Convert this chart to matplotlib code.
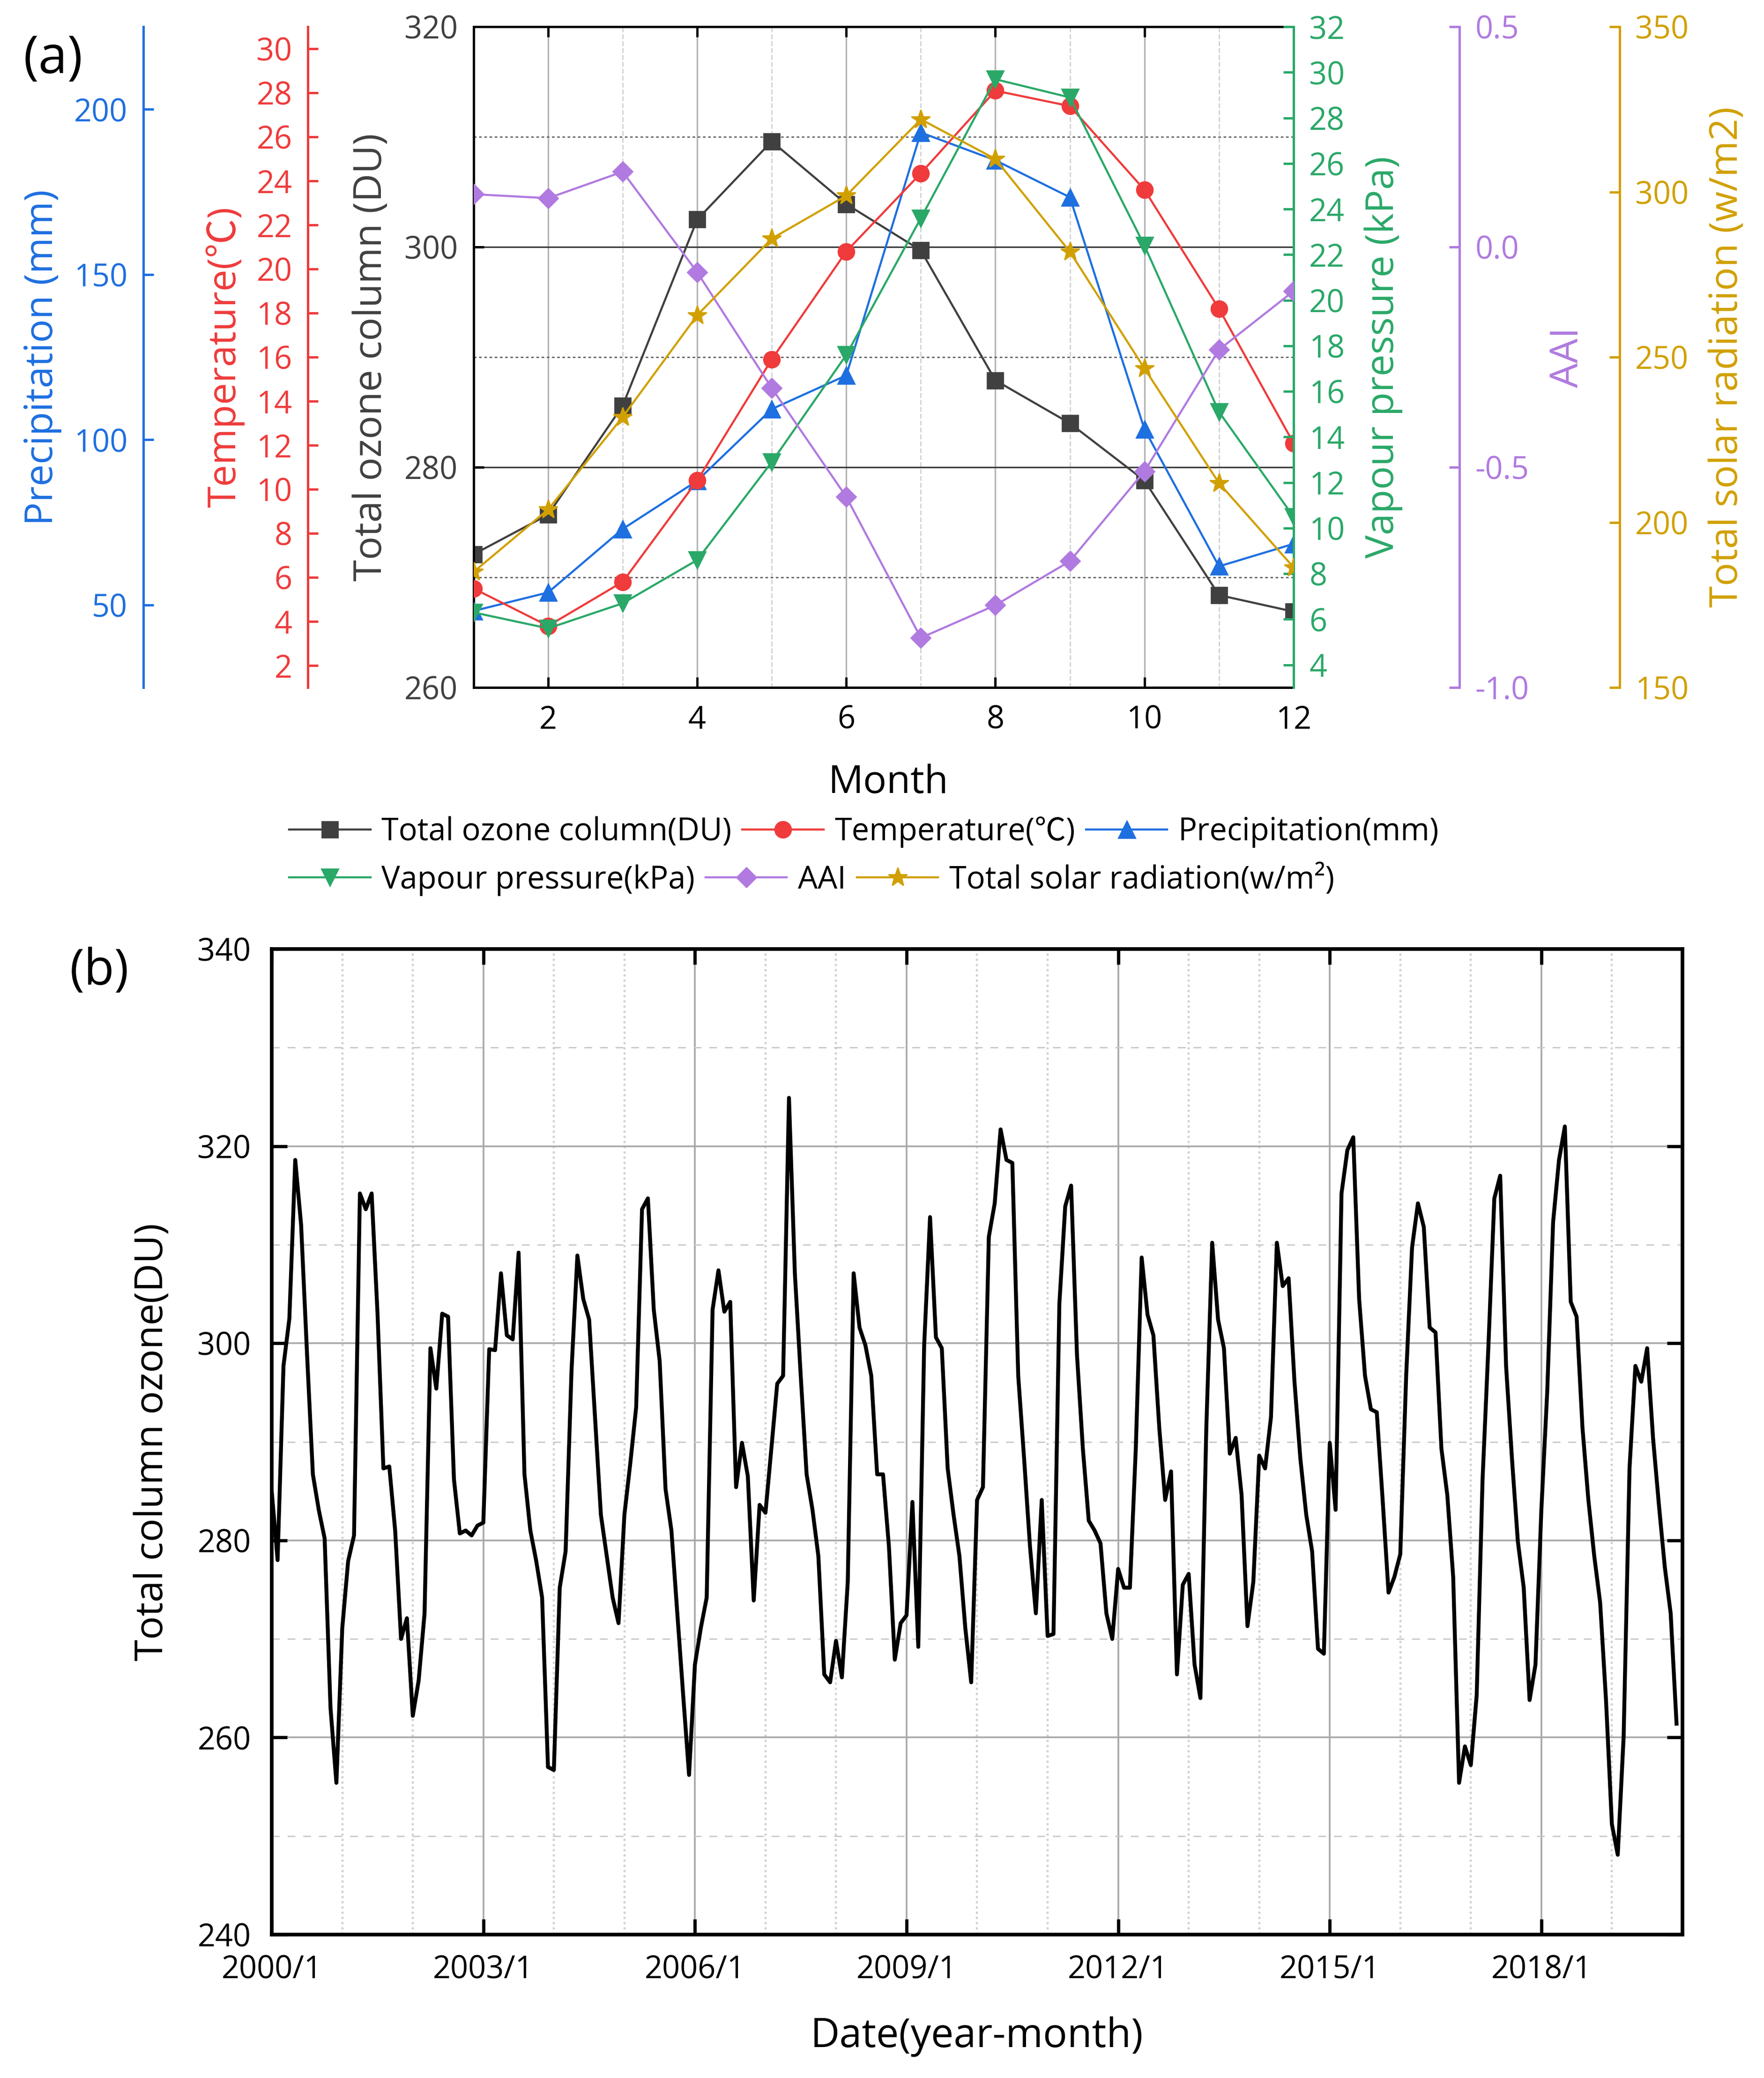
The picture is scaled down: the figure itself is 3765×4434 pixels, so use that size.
import matplotlib
matplotlib.use('Agg')
import matplotlib.pyplot as plt
from matplotlib.ticker import FormatStrFormatter

plt.rcParams['font.family'] = ['Open Sans', 'Noto Sans CJK SC', 'DejaVu Sans']
plt.rcParams['axes.unicode_minus'] = False

# ---- panel (a): monthly climatology ----
months = list(range(1, 13))
ozone = [272.1, 275.7, 285.6, 302.5, 309.6, 303.9, 299.7, 287.9, 284.0, 278.8, 268.4, 266.9]
temperature = [5.5, 3.8, 5.8, 10.4, 15.9, 20.8, 24.35, 28.1, 27.4, 23.6, 18.2, 12.1]
precipitation = [48.2, 53.8, 73.0, 87.6, 109.3, 119.5, 193.0, 184.6, 173.4, 103.2, 61.7, 68.5]
vapour = [6.3, 5.6, 6.7, 8.6, 12.9, 17.6, 23.6, 29.7, 28.9, 22.4, 15.1, 10.5]
aai = [0.120, 0.111, 0.171, -0.057, -0.320, -0.567, -0.887, -0.813, -0.713, -0.509, -0.233, -0.100]
solar = [185.0, 203.9, 231.9, 262.7, 285.9, 298.9, 322.0, 310.0, 281.9, 246.6, 211.9, 186.4]

# ---- panel (b): monthly total column ozone 2000/1 - 2019/12 ----
toc_monthly = [
    285.0, 278.0, 297.7, 302.5, 318.6, 312.0, 299.0, 286.7, 283.1, 280.2, 263.0, 255.4,  # 2000
    271.1, 277.9, 280.5, 315.2, 313.6, 315.2, 303.0, 287.3, 287.5, 281.0, 270.0, 272.1,  # 2001
    262.2, 265.8, 272.6, 299.5, 295.4, 303.0, 302.7, 286.2, 280.7, 281.0, 280.5, 281.5,  # 2002
    281.8, 299.4, 299.3, 307.1, 300.8, 300.4, 309.2, 286.7, 281.0, 277.9, 274.2, 257.0,  # 2003
    256.7, 275.2, 278.9, 297.2, 308.9, 304.5, 302.4, 292.5, 282.6, 278.4, 274.2, 271.6,  # 2004
    282.6, 287.8, 293.5, 313.6, 314.7, 303.4, 298.2, 285.2, 281.0, 272.6, 264.3, 256.2,  # 2005
    267.4, 271.1, 274.2, 303.4, 307.4, 303.2, 304.2, 285.4, 289.9, 286.5, 273.9, 283.6,  # 2006
    282.8, 289.3, 295.9, 296.7, 324.9, 307.1, 296.7, 286.7, 283.1, 278.4, 266.4, 265.6,  # 2007
    269.8, 266.1, 275.8, 307.1, 301.6, 299.8, 296.7, 286.7, 286.7, 279.4, 267.9, 271.6,  # 2008
    272.4, 283.9, 269.2, 299.8, 312.8, 300.6, 299.5, 287.3, 282.6, 278.4, 271.1, 265.6,  # 2009
    284.1, 285.4, 310.8, 314.2, 321.7, 318.6, 318.3, 296.7, 288.3, 279.4, 272.6, 284.1,  # 2010
    270.3, 270.5, 304.0, 313.9, 316.0, 298.8, 289.3, 282.0, 281.0, 279.7, 272.6, 270.0,  # 2011
    277.1, 275.2, 275.2, 289.3, 308.7, 302.9, 300.8, 291.4, 284.1, 287.0, 266.4, 275.5,  # 2012
    276.6, 267.4, 264.0, 291.4, 310.2, 302.4, 299.5, 288.8, 290.4, 284.6, 271.3, 275.8,  # 2013
    288.6, 287.3, 292.5, 310.2, 305.8, 306.6, 296.1, 288.3, 282.6, 278.9, 269.0, 268.5,  # 2014
    289.9, 283.1, 315.2, 319.6, 320.9, 304.5, 296.7, 293.3, 293.0, 284.1, 274.7, 276.3,  # 2015
    278.6, 296.7, 309.7, 314.2, 311.8, 301.6, 301.1, 289.3, 284.6, 276.3, 255.4, 259.1,  # 2016
    257.2, 264.3, 286.2, 299.8, 314.7, 317.0, 297.7, 288.3, 279.9, 275.2, 263.8, 267.4,  # 2017
    283.1, 295.1, 312.3, 318.6, 322.0, 304.2, 302.7, 291.4, 284.1, 278.4, 273.7, 263.8,  # 2018
    251.2, 248.1, 260.1, 287.3, 297.7, 296.1, 299.5, 290.4, 283.6, 277.3, 272.6, 261.4,  # 2019
]
date_labels = ['2000/1', '2003/1', '2006/1', '2009/1', '2012/1', '2015/1', '2018/1']

c_ozone = '#404040'
c_temp = '#EF3B3B'
c_prec = '#1E6FE0'
c_vap = '#2AA868'
c_aai = '#B07AE0'
c_sol = '#D1A000'

FS = 24
LFS = 30

fig = plt.figure(figsize=(18.83, 22.17), dpi=200)

# ================= (a) =================
ax = fig.add_axes([0.2684, 0.6691, 0.4647, 0.318])
ax_p = ax.twinx()
ax_t = ax.twinx()
ax_v = ax.twinx()
ax_a = ax.twinx()
ax_s = ax.twinx()

l_oz, = ax.plot(months, ozone, color=c_ozone, marker='s', lw=1.6, ms=12,
                label='Total ozone column(DU)')
l_t, = ax_t.plot(months, temperature, color=c_temp, marker='o', lw=1.6, ms=12.5,
                 label='Temperature(℃)')
l_p, = ax_p.plot(months, precipitation, color=c_prec, marker='^', lw=1.6, ms=13,
                 label='Precipitation(mm)')
l_v, = ax_v.plot(months, vapour, color=c_vap, marker='v', lw=1.6, ms=13,
                 label='Vapour pressure(kPa)')
l_a, = ax_a.plot(months, aai, color=c_aai, marker='D', lw=1.6, ms=10.5, label='AAI')
l_s, = ax_s.plot(months, solar, color=c_sol, marker='*', lw=1.6, ms=15,
                 label='Total solar radiation(w/m²)')


def style_twin(tw, side, pos, color):
    for s in tw.spines.values():
        s.set_visible(False)
    sp = tw.spines[side]
    sp.set_visible(True)
    sp.set_position(('axes', pos))
    sp.set_color(color)
    sp.set_linewidth(1.8)
    if side == 'left':
        tw.yaxis.set_ticks_position('left')
        tw.yaxis.set_label_position('left')
    else:
        tw.yaxis.set_ticks_position('right')
        tw.yaxis.set_label_position('right')
    tw.tick_params(axis='y', direction='in', colors=color, length=8, width=1.8,
                   labelsize=FS, pad=12)


style_twin(ax_p, 'left', -0.403, c_prec)
style_twin(ax_t, 'left', -0.2023, c_temp)
style_twin(ax_v, 'right', 1.0, c_vap)
style_twin(ax_a, 'right', 1.2023, c_aai)
style_twin(ax_s, 'right', 1.3977, c_sol)

ax.set_xlim(1, 12)
ax.set_ylim(260, 320)
ax_p.set_ylim(25, 225)
ax_t.set_ylim(1, 31)
ax_v.set_ylim(3, 32)
ax_a.set_ylim(-1.0, 0.5)
ax_s.set_ylim(150, 350)

ax.set_xticks(range(2, 13, 2))
ax.set_xticks(range(1, 13, 2), minor=True)
ax.set_yticks([260, 280, 300, 320])
ax.set_yticks([270, 290, 310], minor=True)
ax_p.set_yticks([50, 100, 150, 200])
ax_t.set_yticks(range(2, 31, 2))
ax_v.set_yticks(range(4, 33, 2))
ax_a.set_yticks([-1.0, -0.5, 0.0, 0.5])
ax_a.yaxis.set_major_formatter(FormatStrFormatter('%.1f'))
ax_s.set_yticks([150, 200, 250, 300, 350])

for s in ['left', 'top', 'bottom']:
    ax.spines[s].set_linewidth(1.8)
    ax.spines[s].set_color('black')
ax.spines['right'].set_visible(False)

ax.grid(which='major', axis='x', color='#b4b4b4', lw=1.2)
ax.grid(which='minor', axis='x', color='#d2d2d2', lw=1.0, ls='--')
ax.grid(which='major', axis='y', color='#3c3c3c', lw=1.2)
ax.grid(which='minor', axis='y', color='#606060', lw=1.0, ls=(0, (2, 2)))
ax.tick_params(which='minor', length=0)
ax.tick_params(axis='x', which='major', direction='in', top=True, length=8, width=1.8,
               labelsize=FS, pad=13)
ax.tick_params(axis='y', which='major', direction='in', length=8, width=1.8,
               labelsize=FS, labelcolor=c_ozone, pad=12)

ax.set_ylabel('Total ozone column (DU)', color=c_ozone, fontsize=LFS)
ax_p.set_ylabel('Precipitation (mm)', color=c_prec, fontsize=LFS)
ax_t.set_ylabel('Temperature(℃)', color=c_temp, fontsize=LFS)
ax_v.set_ylabel('Vapour pressure (kPa)', color=c_vap, fontsize=LFS)
ax_a.set_ylabel('AAI', color=c_aai, fontsize=LFS)
ax_s.set_ylabel('Total solar radiation (w/m2)', color=c_sol, fontsize=LFS)
ax.set_xlabel('Month', fontsize=LFS)

for a, xc in [(ax, -0.1246), (ax_p, -0.526), (ax_t, -0.303),
              (ax_v, 1.1098), (ax_a, 1.335), (ax_s, 1.529)]:
    a.yaxis.label.set_va('center')
    a.yaxis.set_label_coords(xc, 0.5)
ax.xaxis.label.set_va('center')
ax.xaxis.set_label_coords(0.506, -0.1446)

leg_kw = dict(loc='center left', ncol=3, frameon=False, fontsize=FS, borderaxespad=0,
              borderpad=0, handlelength=2.6, handletextpad=0.35, columnspacing=0.35,
              numpoints=1)
fig.legend(handles=[l_oz, l_t, l_p], bbox_to_anchor=(0.1639, 0.5996), **leg_kw)
fig.legend(handles=[l_v, l_a, l_s], bbox_to_anchor=(0.1639, 0.5766), **leg_kw)

fig.text(0.030, 0.9713, '(a)', fontsize=40, ha='center', va='center')

# ================= (b) =================
bx = fig.add_axes([0.154, 0.069, 0.7995, 0.4743])
bx.plot(range(len(toc_monthly)), toc_monthly, color='black', lw=3.0)
bx.set_xlim(0, 240)
bx.set_ylim(240, 340)
bx.set_xticks(range(0, 217, 36))
bx.set_xticklabels(date_labels)
bx.set_xticks(range(12, 240, 12), minor=True)
bx.set_yticks(range(240, 341, 20))
bx.set_yticks(range(250, 340, 20), minor=True)

bx.grid(which='major', color='#a8a8a8', lw=1.3)
bx.grid(which='minor', axis='x', color='#cfcfcf', lw=1.6, ls=(0, (1, 1.5)))
bx.grid(which='minor', axis='y', color='#c8c8c8', lw=1.0, ls=(0, (6, 6)))
bx.tick_params(which='minor', length=0)
bx.tick_params(which='major', direction='in', top=True, right=True, length=12, width=2.5,
               labelsize=FS)
bx.tick_params(axis='x', pad=15)
bx.tick_params(axis='y', pad=16)
for s in bx.spines.values():
    s.set_linewidth(2.8)

bx.set_ylabel('Total column ozone(DU)', fontsize=LFS)
bx.set_xlabel('Date(year-month)', fontsize=LFS + 1)
bx.yaxis.label.set_va('center')
bx.yaxis.set_label_coords(-0.0844, 0.5)
bx.xaxis.label.set_va('center')
bx.xaxis.set_label_coords(0.5, -0.1036)

fig.text(0.0564, 0.5325, '(b)', fontsize=38, ha='center', va='center')

fig.savefig('out.png', dpi=200)
